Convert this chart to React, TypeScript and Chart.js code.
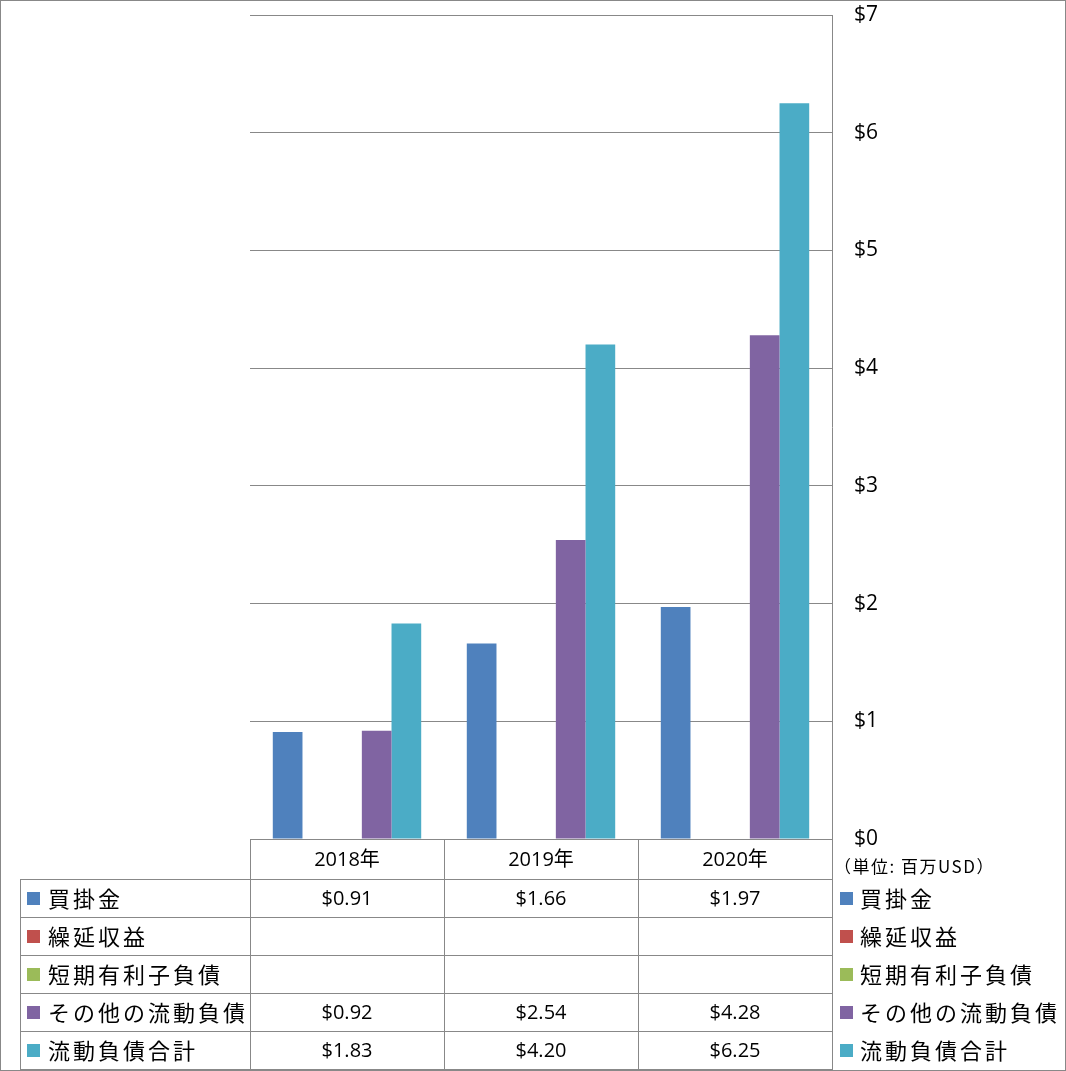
import React, { useEffect, useRef } from "react";
import { Chart, registerables } from "chart.js";

Chart.register(...registerables);

const categories = ["2018年", "2019年", "2020年"];
const seriesNames = ["買掛金", "繰延収益", "短期有利子負債", "その他の流動負債", "流動負債合計"];
const seriesColors = ["#4F81BD", "#C0504D", "#9BBB59", "#8064A2", "#4BACC6"];
const accountsPayable = [0.91, 1.66, 1.97];
const deferredRevenue: (number | null)[] = [null, null, null];
const shortTermDebt: (number | null)[] = [null, null, null];
const otherCurrent = [0.92, 2.54, 4.28];
const totalCurrent = [1.83, 4.2, 6.25];
const yTicks = [0, 1, 2, 3, 4, 5, 6, 7];
const unitLabel = "（単位: 百万USD）";

const W = 1066;
const H = 1071;
const LINE = "#888888";
const NUM_FONT = '20px "Open Sans", "Noto Sans CJK JP", sans-serif';
const JP_FONT = '22px "Noto Sans CJK JP", sans-serif';

const tablePlugin = {
  id: "dataTable",
  afterDraw(chart: any) {
    const ctx = chart.ctx as CanvasRenderingContext2D;
    const x = chart.scales.x;
    const area = chart.chartArea;
    const top = area.bottom;
    const headerH = 40;
    const rowH = 38;
    const leftX = 20;
    const nRows = seriesNames.length;
    const bottom = top + headerH + rowH * nRows;
    const step = x.getPixelForValue(1) - x.getPixelForValue(0);
    const colEdges = [0, 1, 2].map((i) => x.getPixelForValue(i) - step / 2);
    colEdges.push(x.getPixelForValue(2) + step / 2);

    ctx.save();
    ctx.strokeStyle = LINE;
    ctx.lineWidth = 1;
    const hl = (x1: number, x2: number, y: number) => {
      ctx.beginPath();
      ctx.moveTo(x1, Math.round(y) + 0.5);
      ctx.lineTo(x2, Math.round(y) + 0.5);
      ctx.stroke();
    };
    const vl = (xx: number, y1: number, y2: number) => {
      ctx.beginPath();
      ctx.moveTo(Math.round(xx) + 0.5, y1);
      ctx.lineTo(Math.round(xx) + 0.5, y2);
      ctx.stroke();
    };
    hl(colEdges[0], colEdges[3], top);
    for (let r = 0; r <= nRows; r++) {
      hl(leftX, colEdges[3], top + headerH + r * rowH);
    }
    vl(leftX, top + headerH, bottom);
    colEdges.forEach((cx) => vl(cx, top, bottom + 1));

    ctx.fillStyle = "#000";
    ctx.textAlign = "center";
    ctx.textBaseline = "middle";
    categories.forEach((c, i) => {
      ctx.font = NUM_FONT;
      ctx.fillText(c, x.getPixelForValue(i), top + headerH / 2 + 1);
    });

    chart.data.datasets.forEach((ds: any, r: number) => {
      const cy = top + headerH + r * rowH + rowH / 2 + 1;
      ctx.fillStyle = seriesColors[r];
      ctx.fillRect(27, cy - 7, 13, 13);
      ctx.fillStyle = "#000";
      ctx.textAlign = "left";
      ctx.font = JP_FONT;
      (ctx as any).letterSpacing = "3px";
      ctx.fillText(seriesNames[r], 48, cy);
      ctx.fillStyle = seriesColors[r];
      ctx.fillRect(840, cy - 7, 13, 13);
      ctx.fillStyle = "#000";
      ctx.fillText(seriesNames[r], 860, cy);
      (ctx as any).letterSpacing = "0px";
      ctx.textAlign = "center";
      ctx.font = NUM_FONT;
      ds.data.forEach((v: number | null, i: number) => {
        if (v === null || v === undefined) return;
        ctx.fillText("$" + v.toFixed(2), x.getPixelForValue(i), cy);
      });
    });

    ctx.textAlign = "left";
    ctx.font = '17px "Noto Sans CJK JP", sans-serif';
    (ctx as any).letterSpacing = "1.5px";
    ctx.fillStyle = "#000";
    ctx.fillText(unitLabel, 834, top + 28);
    (ctx as any).letterSpacing = "0px";

    ctx.strokeStyle = LINE;
    ctx.strokeRect(0.5, 0.5, W - 1, H - 1);
    ctx.restore();
  },
};

export default function App() {
  const ref = useRef<HTMLCanvasElement | null>(null);
  useEffect(() => {
    document.body.style.margin = "0";
    const canvas = ref.current!;
    const values = [accountsPayable, deferredRevenue, shortTermDebt, otherCurrent, totalCurrent];
    const chart = new Chart(canvas, {
      type: "bar",
      data: {
        labels: categories,
        datasets: seriesNames.map((name, i) => ({
          label: name,
          data: values[i],
          backgroundColor: seriesColors[i],
          borderWidth: 0,
          categoryPercentage: 0.765,
          barPercentage: 1,
        })),
      },
      options: {
        responsive: false,
        animation: false,
        layout: { padding: { left: 250, top: 15, bottom: 232, right: 0 } },
        plugins: { legend: { display: false }, tooltip: { enabled: false } },
        scales: {
          x: { display: false },
          y: {
            position: "right",
            min: 0,
            max: 7,
            afterBuildTicks: (scale: any) => {
              scale.ticks = yTicks.map((v) => ({ value: v }));
            },
            afterFit: (scale: any) => {
              scale.width = 234;
              scale.paddingTop = 0;
              scale.paddingBottom = 0;
            },
            ticks: {
              padding: 22,
              color: "#000",
              font: { family: '"Open Sans", "Noto Sans CJK JP", sans-serif', size: 21 },
              callback: (v: any) => "$" + v,
            },
            grid: { color: LINE, drawTicks: false, lineWidth: 1 },
            border: { display: true, color: LINE },
          },
        },
      },
      plugins: [tablePlugin],
    });
    return () => chart.destroy();
  }, []);
  return (
    <div style={{ position: "absolute", left: 0, top: 0, width: W, height: H, background: "#fff" }}>
      <canvas ref={ref} width={W} height={H} style={{ display: "block" }} />
    </div>
  );
}
